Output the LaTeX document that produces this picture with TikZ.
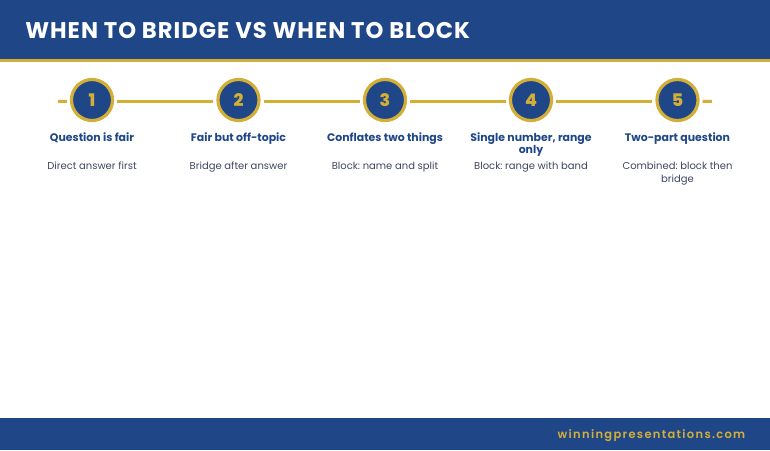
\documentclass[tikz,border=0pt]{standalone}
\usepackage{fontspec}
\setmainfont{Poppins}
\newfontfamily\spacedfont[LetterSpace=4.5]{Poppins}
\newfontfamily\footfont[LetterSpace=11.5]{Poppins SemiBold}
\newfontfamily\digitfont{Poppins ExtraBold}
\definecolor{bandblue}{HTML}{1F4788}
\definecolor{bandgold}{HTML}{D4AF37}
\definecolor{bodygrey}{HTML}{3F4660}
\frenchspacing
\tikzset{
  stepdot/.style={circle,draw=bandgold,fill=bandblue,line width=2.4pt,minimum size=30.8pt,
    inner sep=0pt,outer sep=3.4pt,text=bandgold,font=\digitfont\fontsize{13}{13}\selectfont},
  steplink/.style={draw=bandgold,line width=2.3pt},
  stephead/.style={text=bandblue,font=\bfseries\fontsize{8.2}{9.7}\selectfont,align=flush center,
    text width=100pt,inner sep=0pt,anchor=north},
  stepbody/.style={text=bodygrey,font=\fontsize{7.5}{9.9}\selectfont,align=flush center,
    text width=92pt,inner sep=0pt,anchor=north}
}
\begin{document}
\begin{tikzpicture}
[x=.75pt,y=-.75pt]
\useasboundingbox (0,0) rectangle (770,450);
\fill[bandblue] (0,0) rectangle (770,59); %% top band
\fill[bandgold] (0,59) rectangle (770,62);
\fill[bandblue] (0,418) rectangle (770,450); %% foot band
\node (title) at (25,30.6) [anchor=west,inner sep=0pt,text=white,font=\spacedfont\bfseries\fontsize{17}{17}\selectfont] {WHEN TO BRIDGE VS WHEN TO BLOCK};
\node (site) at (745.5,435.5) [anchor=east,inner sep=0pt,text=bandgold,font=\footfont\fontsize{8.6}{8.6}\selectfont] {winningpresentations.com};
%%
\node (dot1) at (92,100)    [stepdot] {1};
\node (dot2) at (238.5,100) [stepdot] {2};
\node (dot3) at (385,100)   [stepdot] {3};
\node (dot4) at (531,100)   [stepdot] {4};
\node (dot5) at (677.5,100) [stepdot] {5};
\coordinate (stubL) at (58,101.3);
\coordinate (stubR) at (712,101.3);
\draw[steplink] (stubL) -- ([yshift=-1pt]dot1.west); %% stub left
\draw[steplink] ([yshift=-1pt]dot1.east) -- ([yshift=-1pt]dot2.west);
\draw[steplink] ([yshift=-1pt]dot2.east) -- ([yshift=-1pt]dot3.west);
\draw[steplink] ([yshift=-1pt]dot3.east) -- ([yshift=-1pt]dot4.west);
\draw[steplink] ([yshift=-1pt]dot4.east) -- ([yshift=-1pt]dot5.west);
\draw[steplink] ([yshift=-1pt]dot5.east) -- (stubR); %% stub right
%%
\node (head1) at (92,132)    [stephead] {Question is fair};
\node (head2) at (238.5,132) [stephead] {Fair but off-topic};
\node (head3) at (385,132)   [stephead] {Conflates two things};
\node (head4) at (531,132)   [stephead] {Single number, range only};
\node (head5) at (677.5,132) [stephead] {Two-part question};
%%
\node (body1) at (92,161.5)    [stepbody] {Direct answer first};
\node (body2) at (238.5,161.5) [stepbody] {Bridge after answer};
\node (body3) at (385,161.5)   [stepbody] {Block: name and split};
\node (body4) at (531,161.5)   [stepbody] {Block: range with band};
\node (body5) at (677.5,161.5) [stepbody] {Combined: block then bridge};
\end{tikzpicture}
\end{document}
